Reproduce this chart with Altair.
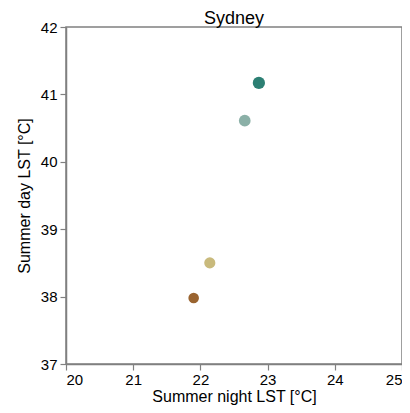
import altair as alt
import pandas as pd

city = "Sydney"
scenarios = ["s1", "s2", "s3", "s4"]
night_lst = [22.87, 22.66, 22.14, 21.90]
day_lst = [41.17, 40.61, 38.50, 37.98]

df = pd.DataFrame({"scenario": scenarios, "night": night_lst, "day": day_lst})

font = "Liberation Sans"

chart = alt.Chart(df).mark_circle(opacity=1).encode(
    x=alt.X("night:Q", title="Summer night LST [°C]",
            scale=alt.Scale(domain=[20, 25], nice=False, zero=False),
            axis=alt.Axis(values=[20, 21, 22, 23, 24, 25], grid=False, tickSize=6,
                          labelFontSize=15, titleFontSize=16, labelPadding=2, titlePadding=1)),
    y=alt.Y("day:Q", title="Summer day LST [°C]",
            scale=alt.Scale(domain=[37, 42], nice=False, zero=False),
            axis=alt.Axis(values=[37, 38, 39, 40, 41, 42], grid=False, tickSize=6,
                          labelFontSize=15, titleFontSize=16, labelPadding=3, titlePadding=8)),
    color=alt.Color("scenario:N", legend=None,
                    scale=alt.Scale(domain=scenarios,
                                    range=["#2c7f73", "#8bb0a7", "#c9ba7c", "#9a6430"])),
    size=alt.Size("scenario:N", legend=None,
                  scale=alt.Scale(domain=scenarios, range=[150, 112, 96, 62])),
).properties(
    width=336, height=337,
    title=alt.TitleParams(city, fontSize=18, fontWeight="normal", font=font, color="black", offset=-8),
    autosize=alt.AutoSizeParams(type="none"),
    padding={"left": 58, "top": 19, "right": 0, "bottom": 41},
).configure_view(
    stroke="#808080", strokeWidth=1.5
).configure_axis(
    domainColor="#808080", domainWidth=1.5, tickColor="#808080", tickWidth=1.2,
    labelColor="black", titleColor="black", labelFont=font, titleFont=font,
    titleFontWeight="normal"
)

chart.save("out.html", embed_options={"renderer": "svg", "actions": False})
